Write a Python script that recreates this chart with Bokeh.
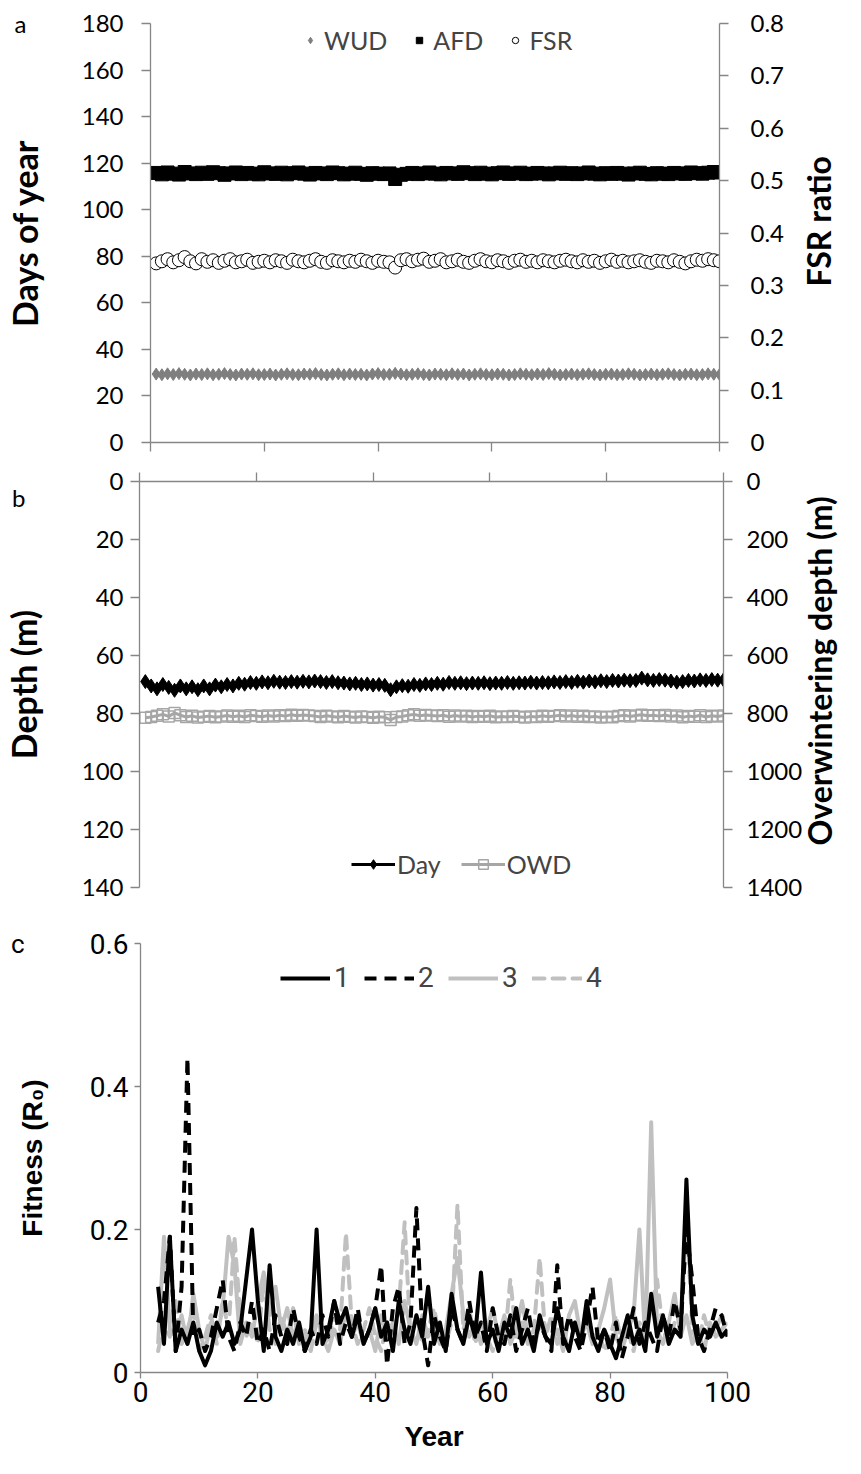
import math
from bokeh.plotting import figure
from bokeh.models import (Range1d, LinearAxis, FixedTicker, CustomJSTickFormatter,
                          Legend, LegendItem)
from bokeh.embed import file_html
from bokeh.resources import INLINE

# ---------------- data ----------------
years_ab = list(range(1, 101))

wud = [29.4, 29.1, 29.5, 29.2, 29.6, 29.3, 29.0, 29.4, 29.2, 29.5,
       29.1, 29.3, 29.6, 29.2, 29.0, 29.4, 29.3, 29.5, 29.1, 29.2,
       29.4, 29.0, 29.3, 29.5, 29.2, 29.1, 29.4, 29.3, 29.6, 29.2,
       29.0, 29.3, 29.5, 29.1, 29.4, 29.2, 29.3, 29.0, 29.4, 29.6,
       29.2, 29.3, 29.7, 29.4, 29.1, 29.3, 29.5, 29.2, 29.0, 29.4,
       29.3, 29.1, 29.5, 29.2, 29.4, 29.0, 29.3, 29.5, 29.2, 29.1,
       29.4, 29.3, 29.0, 29.2, 29.5, 29.3, 29.1, 29.4, 29.2, 29.6,
       29.3, 29.0, 29.2, 29.4, 29.1, 29.3, 29.5, 29.2, 29.0, 29.3,
       29.4, 29.1, 29.2, 29.5, 29.3, 29.0, 29.2, 29.4, 29.1, 29.3,
       29.5, 29.2, 29.0, 29.3, 29.4, 29.1, 29.2, 29.5, 29.3, 29.2]

afd = [115.8, 115.2, 116.0, 115.5, 115.1, 116.2, 115.6, 115.3, 115.9, 115.4,
       116.1, 115.7, 115.0, 115.6, 116.0, 115.3, 115.8, 115.5, 115.2, 116.1,
       115.6, 115.4, 115.9, 115.2, 115.7, 116.0, 115.5, 115.1, 115.8, 115.6,
       115.3, 116.0, 115.7, 115.2, 115.5, 115.9, 115.4, 115.0, 115.7, 115.5,
       115.3, 115.6, 113.2, 115.0, 115.4, 115.8, 115.3, 115.6, 116.0, 115.5,
       115.2, 115.8, 115.6, 115.4, 116.1, 115.7, 115.3, 115.9, 115.5, 115.2,
       115.7, 116.0, 115.4, 115.6, 115.9, 115.3, 115.5, 115.8, 115.6, 115.2,
       115.6, 115.9, 115.4, 115.7, 115.3, 115.6, 116.0, 115.5, 115.2, 115.7,
       115.4, 115.8, 115.5, 115.1, 115.6, 115.9, 115.4, 115.2, 115.7, 115.5,
       115.3, 115.8, 115.6, 115.4, 116.0, 115.7, 115.5, 115.9, 116.2, 116.0]

fsr = [0.342, 0.346, 0.350, 0.344, 0.348, 0.354, 0.346, 0.342, 0.350, 0.345,
       0.348, 0.343, 0.347, 0.350, 0.344, 0.346, 0.349, 0.343, 0.345, 0.347,
       0.344, 0.348, 0.346, 0.343, 0.349, 0.346, 0.344, 0.347, 0.350, 0.345,
       0.343, 0.348, 0.346, 0.344, 0.347, 0.345, 0.349, 0.346, 0.343, 0.347,
       0.345, 0.344, 0.334, 0.348, 0.350, 0.346, 0.349, 0.351, 0.345, 0.347,
       0.350, 0.344, 0.346, 0.349, 0.345, 0.343, 0.347, 0.350, 0.346, 0.344,
       0.348, 0.346, 0.343, 0.347, 0.349, 0.345, 0.347, 0.344, 0.348, 0.346,
       0.344, 0.347, 0.349, 0.346, 0.344, 0.348, 0.345, 0.347, 0.343, 0.346,
       0.349, 0.345, 0.347, 0.344, 0.346, 0.348, 0.345, 0.343, 0.347, 0.346,
       0.344, 0.348, 0.345, 0.342, 0.346, 0.349, 0.347, 0.350, 0.348, 0.346]

day_depth = [69.0, 70.5, 71.5, 70.0, 71.0, 72.0, 70.5, 71.5, 70.8, 71.8,
             70.5, 71.5, 70.2, 70.8, 70.0, 70.5, 69.6, 69.9, 69.3, 69.6,
             69.1, 69.4, 68.9, 69.2, 69.3, 69.0, 69.2, 68.9, 69.1, 68.8,
             69.0, 69.3, 69.0, 69.4, 69.5, 69.8, 69.6, 70.0, 69.8, 70.2,
             70.0, 70.3, 71.8, 70.8, 70.4, 70.6, 70.0, 70.3, 69.8, 70.0,
             69.6, 69.9, 69.3, 69.6, 69.4, 69.7, 69.5, 69.6, 69.4, 69.7,
             69.5, 69.6, 69.3, 69.6, 69.4, 69.5, 69.2, 69.5, 69.3, 69.4,
             69.1, 69.3, 69.0, 69.3, 68.9, 69.2, 68.8, 69.1, 68.7, 69.0,
             68.6, 68.8, 68.5, 68.7, 68.6, 67.8, 68.4, 68.6, 68.3, 68.5,
             68.8, 69.2, 69.0, 68.6, 68.8, 68.4, 68.6, 68.3, 68.5, 68.4]

owd = [815, 812, 808, 803, 810, 798, 806, 812, 808, 814,
       811, 809, 813, 810, 807, 811, 808, 812, 806, 809,
       811, 807, 810, 806, 809, 804, 808, 805, 807, 809,
       812, 808, 810, 813, 809, 811, 814, 810, 812, 815,
       811, 813, 822, 812, 810, 806, 803, 808, 805, 807,
       809, 806, 811, 807, 810, 808, 812, 809, 811, 808,
       813, 810, 812, 809, 811, 814, 810, 812, 808, 811,
       809, 806, 810, 807, 811, 808, 812, 810, 814, 811,
       813, 809, 806, 810, 807, 804, 808, 806, 809, 805,
       810, 807, 813, 809, 811, 806, 812, 808, 810, 807]

years_c = list(range(3, 101))

fit1 = [0.12, 0.04, 0.19, 0.03, 0.06, 0.04, 0.07, 0.03, 0.01, 0.03,
        0.07, 0.05, 0.07, 0.04, 0.06, 0.13, 0.20, 0.10, 0.03, 0.15,
        0.05, 0.03, 0.06, 0.04, 0.07, 0.03, 0.05, 0.20, 0.04, 0.06,
        0.10, 0.07, 0.09, 0.05, 0.08, 0.04, 0.06, 0.09, 0.05, 0.07,
        0.03, 0.10, 0.06, 0.04, 0.08, 0.05, 0.12, 0.04, 0.07, 0.03,
        0.11, 0.06, 0.04, 0.08, 0.05, 0.14, 0.04, 0.06, 0.03, 0.07,
        0.05, 0.09, 0.04, 0.06, 0.03, 0.08, 0.05, 0.04, 0.09, 0.05,
        0.03, 0.07, 0.04, 0.10, 0.05, 0.03, 0.06, 0.04, 0.02, 0.05,
        0.08, 0.04, 0.06, 0.03, 0.11, 0.05, 0.08, 0.04, 0.06, 0.05,
        0.27, 0.08, 0.04, 0.06, 0.05, 0.07, 0.05, 0.06]

fit2 = [0.07, 0.10, 0.19, 0.03, 0.12, 0.44, 0.05, 0.06, 0.03, 0.05,
        0.09, 0.13, 0.05, 0.03, 0.07, 0.05, 0.10, 0.04, 0.06, 0.03,
        0.08, 0.05, 0.04, 0.09, 0.05, 0.03, 0.06, 0.04, 0.08, 0.05,
        0.10, 0.04, 0.07, 0.05, 0.09, 0.04, 0.06, 0.09, 0.15, 0.01,
        0.09, 0.12, 0.04, 0.07, 0.23, 0.06, 0.01, 0.08, 0.05, 0.03,
        0.09, 0.06, 0.04, 0.10, 0.05, 0.07, 0.03, 0.09, 0.05, 0.04,
        0.08, 0.03, 0.06, 0.09, 0.04, 0.07, 0.05, 0.03, 0.15, 0.04,
        0.08, 0.05, 0.03, 0.07, 0.12, 0.04, 0.06, 0.03, 0.07, 0.02,
        0.05, 0.09, 0.04, 0.07, 0.05, 0.03, 0.08, 0.05, 0.10, 0.06,
        0.20, 0.13, 0.05, 0.03, 0.06, 0.09, 0.08, 0.05]

fit3 = [0.04, 0.19, 0.06, 0.05, 0.08, 0.04, 0.11, 0.06, 0.03, 0.07,
        0.05, 0.09, 0.19, 0.15, 0.04, 0.07, 0.05, 0.10, 0.14, 0.08,
        0.12, 0.06, 0.09, 0.05, 0.07, 0.04, 0.06, 0.08, 0.05, 0.03,
        0.06, 0.04, 0.09, 0.05, 0.07, 0.04, 0.06, 0.03, 0.08, 0.05,
        0.07, 0.04, 0.10, 0.06, 0.04, 0.08, 0.05, 0.07, 0.04, 0.06,
        0.11, 0.16, 0.08, 0.05, 0.07, 0.04, 0.06, 0.09, 0.05, 0.08,
        0.04, 0.06, 0.10, 0.05, 0.03, 0.07, 0.05, 0.04, 0.06, 0.03,
        0.08, 0.10, 0.05, 0.07, 0.04, 0.06, 0.09, 0.13, 0.05, 0.03,
        0.06, 0.08, 0.20, 0.04, 0.35, 0.06, 0.04, 0.07, 0.11, 0.05,
        0.08, 0.04, 0.06, 0.03, 0.07, 0.05, 0.06, 0.07]

fit4 = [0.03, 0.07, 0.05, 0.10, 0.04, 0.06, 0.09, 0.03, 0.05, 0.08,
        0.04, 0.10, 0.06, 0.19, 0.08, 0.05, 0.07, 0.04, 0.13, 0.06,
        0.04, 0.08, 0.05, 0.09, 0.04, 0.06, 0.03, 0.07, 0.05, 0.04,
        0.08, 0.06, 0.195, 0.07, 0.04, 0.06, 0.09, 0.05, 0.03, 0.07,
        0.05, 0.09, 0.21, 0.05, 0.08, 0.04, 0.06, 0.09, 0.05, 0.04,
        0.07, 0.235, 0.06, 0.09, 0.04, 0.07, 0.05, 0.03, 0.06, 0.04,
        0.13, 0.05, 0.07, 0.04, 0.06, 0.16, 0.05, 0.08, 0.04, 0.06,
        0.03, 0.07, 0.05, 0.08, 0.04, 0.06, 0.03, 0.05, 0.08, 0.04,
        0.06, 0.03, 0.07, 0.05, 0.09, 0.13, 0.06, 0.04, 0.07, 0.05,
        0.23, 0.06, 0.04, 0.08, 0.05, 0.06, 0.08, 0.07]

ticks_a_left = [0, 20, 40, 60, 80, 100, 120, 140, 160, 180]
ticks_a_right = [0, 0.1, 0.2, 0.3, 0.4, 0.5, 0.6, 0.7, 0.8]
ticks_b_left = [0, 20, 40, 60, 80, 100, 120, 140]
ticks_b_right = [0, 200, 400, 600, 800, 1000, 1200, 1400]
ticks_c_y = [0, 0.2, 0.4, 0.6]
ticks_x = [0, 20, 40, 60, 80, 100]

# ---------------- style ----------------
CAL = "Lato"
NAR = "Roboto"
ARI = "Liberation Sans"
AXC = "#868686"
TICK_FS = "24px"
TITLE_FS = "34px"

fmt = CustomJSTickFormatter(code="return (Math.round(tick*100)/100).toString();")
blank = CustomJSTickFormatter(code="return '';")


def txt(s):
    return CustomJSTickFormatter(code="return %r;" % s)


def style_axis(ax, font, fs, tick_out=9, standoff=12):
    ax.axis_line_color = AXC
    ax.axis_line_width = 1.3
    ax.major_tick_line_color = AXC
    ax.major_tick_line_width = 1.3
    ax.major_tick_out = tick_out
    ax.major_tick_in = 0
    ax.minor_tick_line_color = None
    ax.major_label_text_font = font
    ax.major_label_text_font_size = fs
    ax.major_label_text_color = "black"
    ax.major_label_standoff = standoff


def tag_axis(tick, text, font, fs, standoff, bold=False, angle=None, range_name=None,
             title=None, title_font=None, title_fs=None, title_standoff=0):
    kw = {"y_range_name": range_name} if range_name else {}
    ax = LinearAxis(ticker=FixedTicker(ticks=[tick]), formatter=txt(text), **kw)
    ax.axis_line_color = None
    ax.major_tick_line_color = None
    ax.major_tick_out = 0
    ax.major_tick_in = 0
    ax.minor_tick_line_color = None
    ax.major_label_text_font = font
    ax.major_label_text_font_size = fs
    ax.major_label_text_color = "black"
    ax.major_label_standoff = standoff
    if bold:
        ax.major_label_text_font_style = "bold"
    if angle is not None:
        ax.major_label_orientation = angle
    if title:
        ax.axis_label = title
        ax.axis_label_text_font = title_font
        ax.axis_label_text_font_size = title_fs
        ax.axis_label_text_font_style = "bold"
        ax.axis_label_text_color = "black"
        ax.axis_label_standoff = title_standoff
    return ax


def base(h, left, right, top, bottom, **kw):
    p = figure(width=861, height=h, output_backend="svg", toolbar_location=None,
               min_border_left=left, min_border_right=right,
               min_border_top=top, min_border_bottom=bottom, **kw)
    p.xgrid.grid_line_color = None
    p.ygrid.grid_line_color = None
    p.outline_line_color = None
    p.background_fill_color = "white"
    p.border_fill_color = "white"
    return p


# ---------------- panel a ----------------
pa = base(460, 149, 142, 23, 18, x_range=Range1d(0, 100), y_range=Range1d(0, 180))
pa.extra_y_ranges = {"fsr": Range1d(0, 0.8)}
pa.yaxis.ticker = FixedTicker(ticks=ticks_a_left)
style_axis(pa.yaxis[0], CAL, TICK_FS, standoff=18)
pa.xaxis.ticker = FixedTicker(ticks=ticks_x)
pa.xaxis.formatter = blank
style_axis(pa.xaxis[0], CAL, TICK_FS, standoff=0)
pa.xaxis.major_label_text_color = None
pa.add_layout(tag_axis(180, "a", CAL, "24px", 52, title="Days of year",
                       title_font=CAL, title_fs=TITLE_FS, title_standoff=-33), "left")
ra = LinearAxis(y_range_name="fsr", ticker=FixedTicker(ticks=ticks_a_right), formatter=fmt)
style_axis(ra, CAL, TICK_FS, standoff=22)
pa.add_layout(ra, "right")
pa.add_layout(tag_axis(67, "FSR ratio", CAL, "32px", 31, bold=True,
                       angle=math.pi / 2), "right")

r_wud = pa.scatter(years_ab, wud, marker="diamond", size=12, color="#7F7F7F")
r_afd = pa.scatter(years_ab, afd, marker="square", size=13, color="black")
r_fsr = pa.scatter(years_ab, fsr, y_range_name="fsr", marker="circle", size=13,
                   fill_color="white", line_color="black", line_width=1)
leg_a = Legend(items=[LegendItem(label="WUD", renderers=[r_wud]),
                      LegendItem(label="AFD", renderers=[r_afd]),
                      LegendItem(label="FSR", renderers=[r_fsr])],
               location=(152, 387), orientation="horizontal",
               label_text_font=CAL, label_text_font_size="25px",
               glyph_width=16, glyph_height=24, label_standoff=6, spacing=24,
               padding=0, margin=0, border_line_color=None, background_fill_alpha=0)
pa.add_layout(leg_a, "center")

# ---------------- panel b ----------------
pb = base(455, 138, 136, 21, 28, x_range=Range1d(0, 100), y_range=Range1d(140, 0),
          x_axis_location="above")
pb.extra_y_ranges = {"owd": Range1d(1400, 0), "tag": Range1d(0, 140)}
pb.yaxis.ticker = FixedTicker(ticks=ticks_b_left)
style_axis(pb.yaxis[0], CAL, TICK_FS, standoff=7)
pb.xaxis.ticker = FixedTicker(ticks=ticks_x)
pb.xaxis.formatter = blank
style_axis(pb.xaxis[0], CAL, TICK_FS, standoff=0)
pb.xaxis.major_label_text_color = None
pb.add_layout(tag_axis(5.5, "b", CAL, "24px", 53, title="Depth (m)",
                       title_font=CAL, title_fs=TITLE_FS, title_standoff=-35), "left")
rb = LinearAxis(y_range_name="owd", ticker=FixedTicker(ticks=ticks_b_right))
style_axis(rb, CAL, TICK_FS, standoff=14)
pb.add_layout(rb, "right")
pb.add_layout(tag_axis(14.5, "Overwintering depth (m)", CAL, "32px", 14, bold=True,
                       angle=math.pi / 2, range_name="tag"), "right")

l_owd = pb.line(years_ab, owd, y_range_name="owd", color="#A6A6A6", line_width=3)
s_owd = pb.scatter(years_ab, owd, y_range_name="owd", marker="square", size=11,
                   fill_color=None, line_color="#A6A6A6", line_width=1.5)
l_day = pb.line(years_ab, day_depth, color="black", line_width=3)
s_day = pb.scatter(years_ab, day_depth, marker="diamond", size=14, color="black")
leg_b = Legend(items=[LegendItem(label="Day", renderers=[l_day, s_day]),
                      LegendItem(label="OWD", renderers=[l_owd, s_owd])],
               location=(212, 8), orientation="horizontal",
               label_text_font=CAL, label_text_font_size="25px",
               glyph_width=44, glyph_height=24, label_standoff=2, spacing=20,
               padding=0, margin=0, border_line_color=None, background_fill_alpha=0)
pb.add_layout(leg_b, "center")

# ---------------- panel c ----------------
pc = base(559, 140, 134, 28, 102, x_range=Range1d(0, 100), y_range=Range1d(0, 0.6))
pc.yaxis.ticker = FixedTicker(ticks=ticks_c_y)
pc.yaxis.formatter = fmt
style_axis(pc.yaxis[0], NAR, "28px", tick_out=6, standoff=6)
pc.xaxis.ticker = FixedTicker(ticks=ticks_x)
pc.xaxis.axis_label = "Year"
style_axis(pc.xaxis[0], NAR, "28px", tick_out=6, standoff=3)
pc.xaxis.axis_label_text_font = ARI
pc.xaxis.axis_label_text_font_size = "28px"
pc.xaxis.axis_label_text_font_style = "bold"
pc.xaxis.axis_label_text_color = "black"
pc.xaxis.axis_label_standoff = 16
pc.add_layout(tag_axis(0.6, "c", NAR, "26px", 62, title="Fitness (R\u2080)",
                       title_font=ARI, title_fs="28px", title_standoff=-40), "left")

GREY = "#C0C0C0"
c4 = pc.line(years_c, fit4, color=GREY, line_width=4, line_dash="12 8",
             line_cap="round", line_join="round")
c3 = pc.line(years_c, fit3, color=GREY, line_width=4, line_join="round")
c2 = pc.line(years_c, fit2, color="black", line_width=4, line_dash="12 8",
             line_join="round")
c1 = pc.line(years_c, fit1, color="black", line_width=4, line_join="round")
leg_c = Legend(items=[LegendItem(label="1", renderers=[c1]),
                      LegendItem(label="2", renderers=[c2]),
                      LegendItem(label="3", renderers=[c3]),
                      LegendItem(label="4", renderers=[c4])],
               location=(140, 378), orientation="horizontal",
               label_text_font=NAR, label_text_font_size="28px",
               glyph_width=50, glyph_height=24, label_standoff=4, spacing=10,
               padding=0, margin=0, border_line_color=None, background_fill_alpha=0)
pc.add_layout(leg_c, "center")

open("out.html", "w").write(file_html([pa, pb, pc], INLINE))
